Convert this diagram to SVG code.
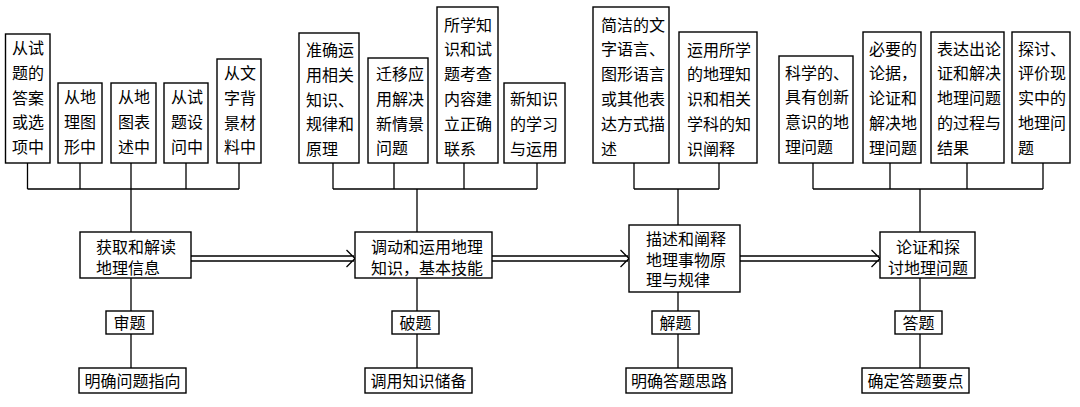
<svg xmlns="http://www.w3.org/2000/svg" width="1080" height="407" viewBox="0 0 1080 407">
<style>
rect{fill:#fff;stroke:#000;stroke-width:1.4}
text{font-family:"Liberation Serif","Noto Sans CJK SC",serif;font-size:16px;fill:#000}
.c{text-anchor:middle}
.ln{stroke:#000;stroke-width:1.3;fill:none}
</style>
<rect x="0" y="0" width="1080" height="407" style="stroke:none"/>
<g id="connectors">
<path class="ln" d="M27.5,163V189M80,163V189M131,163V189M186,163V189M239,163V189M27.5,189H239M131,189V232M131,278V311M131,334V368"/>
<path class="ln" d="M333,163V189M394,163V189M464,163V189M537,163V189M333,189H537M417,189V232M417,278V311M417,334V368"/>
<path class="ln" d="M634,163V189M719,163V189M634,189H719M678,189V225M678,292V311M678,334V368"/>
<path class="ln" d="M813,163V189M890,163V189M967,163V189M1043,163V189M813,189H1043M920,189V232M920,278V311M920,334V368"/>
<path class="ln" d="M191,256H354M191,261H354M346.5,250L355,258.5L346.5,267"/>
<path class="ln" d="M492,256H628M492,261H628M620.5,250L629,258.5L620.5,267"/>
<path class="ln" d="M740,256H879M740,261H879M871.5,250L880,258.5L871.5,267"/>
</g>
<g id="g1b1"><rect x="5.5" y="34" width="44.5" height="129"/><text x="12" y="54">从试<tspan x="12" dy="24.8">题的</tspan><tspan x="12" dy="24.8">答案</tspan><tspan x="12" dy="24.8">或选</tspan><tspan x="12" dy="24.8">项中</tspan></text></g>
<g id="g1b2"><rect x="58" y="83" width="44" height="80"/><text x="64" y="103">从地<tspan x="64" dy="24.8">理图</tspan><tspan x="64" dy="24.8">形中</tspan></text></g>
<g id="g1b3"><rect x="111" y="83" width="45" height="80"/><text x="118" y="103">从地<tspan x="118" dy="24.8">图表</tspan><tspan x="118" dy="24.8">述中</tspan></text></g>
<g id="g1b4"><rect x="164" y="83" width="44" height="80"/><text x="171" y="103">从试<tspan x="171" dy="24.8">题设</tspan><tspan x="171" dy="24.8">问中</tspan></text></g>
<g id="g1b5"><rect x="217" y="59" width="44" height="104"/><text x="224" y="79">从文<tspan x="224" dy="24.8">字背</tspan><tspan x="224" dy="24.8">景材</tspan><tspan x="224" dy="24.8">料中</tspan></text></g>
<g id="m1"><rect x="80" y="232" width="111" height="46"/><text x="96" y="253">获取和解读<tspan x="96" dy="20.5">地理信息</tspan></text></g>
<g id="s1"><rect x="106" y="311" width="47" height="23"/><text class="c" x="129.5" y="328.5">审题</text></g>
<g id="r1"><rect x="79" y="368" width="107" height="25"/><text class="c" x="132.5" y="386.5">明确问题指向</text></g>

<g id="g2b1"><rect x="299" y="33" width="60" height="130"/><text x="306" y="56">准确运<tspan x="306" dy="24.8">用相关</tspan><tspan x="306" dy="24.8">知识、</tspan><tspan x="306" dy="24.8">规律和</tspan><tspan x="306" dy="24.8">原理</tspan></text></g>
<g id="g2b2"><rect x="368" y="58" width="60" height="105"/><text x="376" y="80">迁移应<tspan x="376" dy="24.8">用解决</tspan><tspan x="376" dy="24.8">新情景</tspan><tspan x="376" dy="24.8">问题</tspan></text></g>
<g id="g2b3"><rect x="437" y="7" width="61" height="156"/><text x="444" y="30.5">所学知<tspan x="444" dy="24.8">识和试</tspan><tspan x="444" dy="24.8">题考查</tspan><tspan x="444" dy="24.8">内容建</tspan><tspan x="444" dy="24.8">立正确</tspan><tspan x="444" dy="24.8">联系</tspan></text></g>
<g id="g2b4"><rect x="504" y="83" width="61" height="80"/><text x="510" y="105">新知识<tspan x="510" dy="24.8">的学习</tspan><tspan x="510" dy="24.8">与运用</tspan></text></g>
<g id="m2"><rect x="355" y="232" width="137" height="46"/><text x="371" y="253">调动和运用地理<tspan x="371" dy="20.5">知识，基本技能</tspan></text></g>
<g id="s2"><rect x="392" y="311" width="47" height="23"/><text class="c" x="415.5" y="328.5">破题</text></g>
<g id="r2"><rect x="365" y="368" width="107" height="25"/><text class="c" x="418.5" y="386.5">调用知识储备</text></g>

<g id="g3b1"><rect x="593" y="7" width="76" height="156"/><text x="601" y="30.5">简洁的文<tspan x="601" dy="24.8">字语言、</tspan><tspan x="601" dy="24.8">图形语言</tspan><tspan x="601" dy="24.8">或其他表</tspan><tspan x="601" dy="24.8">达方式描</tspan><tspan x="601" dy="24.8">述</tspan></text></g>
<g id="g3b2"><rect x="679" y="32" width="78" height="131"/><text x="687" y="55.5">运用所学<tspan x="687" dy="24.8">的地理知</tspan><tspan x="687" dy="24.8">识和相关</tspan><tspan x="687" dy="24.8">学科的知</tspan><tspan x="687" dy="24.8">识阐释</tspan></text></g>
<g id="m3"><rect x="629" y="225" width="111" height="67"/><text x="646" y="245">描述和阐释<tspan x="646" dy="20.5">地理事物原</tspan><tspan x="646" dy="20.5">理与规律</tspan></text></g>
<g id="s3"><rect x="652" y="311" width="47" height="23"/><text class="c" x="675.5" y="328.5">解题</text></g>
<g id="r3"><rect x="626" y="368" width="106" height="25"/><text class="c" x="679" y="386.5">明确答题思路</text></g>

<g id="g4b1"><rect x="779" y="56" width="74" height="107"/><text x="785" y="78.5">科学的、<tspan x="785" dy="24.8">具有创新</tspan><tspan x="785" dy="24.8">意识的地</tspan><tspan x="785" dy="24.8">理问题</tspan></text></g>
<g id="g4b2"><rect x="863" y="32" width="58" height="131"/><text x="869" y="54.5">必要的<tspan x="869" dy="24.8">论据，</tspan><tspan x="869" dy="24.8">论证和</tspan><tspan x="869" dy="24.8">解决地</tspan><tspan x="869" dy="24.8">理问题</tspan></text></g>
<g id="g4b3"><rect x="931" y="32" width="73" height="131"/><text x="937" y="54.5">表达出论<tspan x="937" dy="24.8">证和解决</tspan><tspan x="937" dy="24.8">地理问题</tspan><tspan x="937" dy="24.8">的过程与</tspan><tspan x="937" dy="24.8">结果</tspan></text></g>
<g id="g4b4"><rect x="1012" y="32" width="58" height="131"/><text x="1018" y="54.5">探讨、<tspan x="1018" dy="24.8">评价现</tspan><tspan x="1018" dy="24.8">实中的</tspan><tspan x="1018" dy="24.8">地理问</tspan><tspan x="1018" dy="24.8">题</tspan></text></g>
<g id="m4"><rect x="880" y="232" width="95" height="46"/><text class="c" x="928" y="253">论证和探<tspan class="c" x="928" dy="20.5">讨地理问题</tspan></text></g>
<g id="s4"><rect x="895" y="311" width="47" height="23"/><text class="c" x="918.5" y="328.5">答题</text></g>
<g id="r4"><rect x="862" y="368" width="107" height="25"/><text class="c" x="915.5" y="386.5">确定答题要点</text></g>
</svg>
